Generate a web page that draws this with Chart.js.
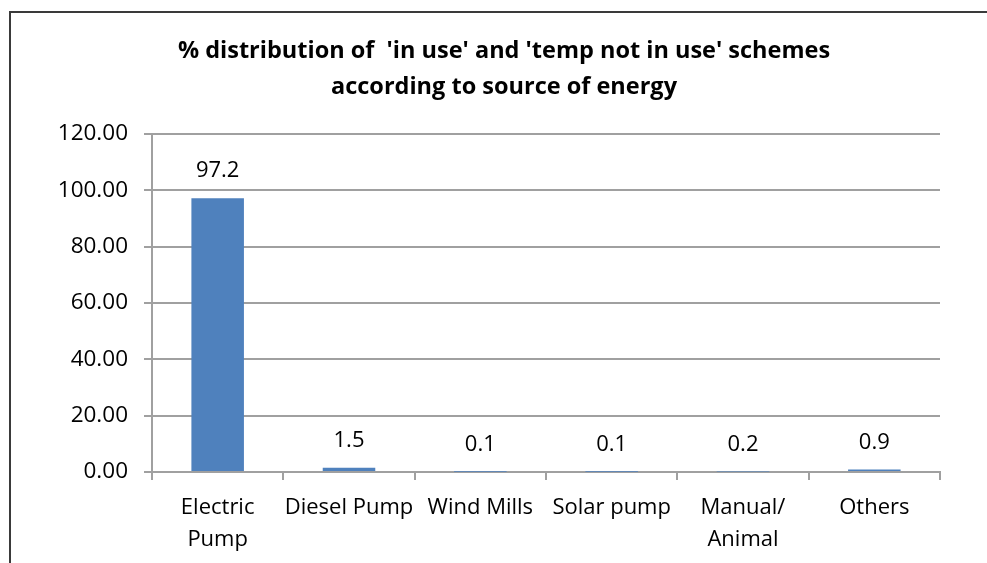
<!DOCTYPE html>
<html>
<head>
<meta charset="utf-8">
<script src="https://cdn.jsdelivr.net/npm/chart.js@4.4.1/dist/chart.umd.min.js"></script>
<style>
  html, body { margin: 0; padding: 0; background: #fff; overflow: hidden; }
  #wrap { position: relative; width: 987px; height: 563px; }
  #frame {
    position: absolute; left: 9px; top: 11px; width: 1100px; height: 700px;
    border-left: 2px solid #3a3a3a; border-top: 2px solid #3a3a3a;
  }
  canvas { position: absolute; left: 0; top: 0; }
</style>
</head>
<body>
<div id="wrap">
  <div id="frame"></div>
  <canvas id="energyChart" width="987" height="563"></canvas>
</div>
<script>
// --- data ---
const categories = [['Electric', 'Pump'], 'Diesel Pump', 'Wind Mills', 'Solar pump', ['Manual/', 'Animal'], 'Others'];
const shareValues = [97.2, 1.5, 0.1, 0.1, 0.2, 0.9];
const yTicks = [0, 20, 40, 60, 80, 100, 120];
const titleLines = ["% distribution of  'in use' and 'temp not in use' schemes", 'according to source of energy'];

const FONT = "'Open Sans', sans-serif";
const GRID = '#a0a0a0';
const BAR = '#4f81bd';

// chart title, centred on the frame rather than the plot
const frameTitle = {
    id: 'frameTitle',
    afterDraw(chart) {
        const ctx = chart.ctx;
        ctx.save();
        ctx.font = 'bold 23.5px ' + FONT;
        ctx.fillStyle = '#000';
        ctx.textAlign = 'center';
        ctx.textBaseline = 'middle';
        titleLines.forEach((line, i) => ctx.fillText(line, 504, 51 + i * 36));
        ctx.restore();
    }
};

// draws the value above every bar
const valueLabels = {
    id: 'valueLabels',
    afterDatasetsDraw(chart) {
        const ctx = chart.ctx;
        const meta = chart.getDatasetMeta(0);
        ctx.save();
        ctx.font = '22px ' + FONT;
        ctx.fillStyle = '#000';
        ctx.textAlign = 'center';
        ctx.textBaseline = 'middle';
        meta.data.forEach((bar, i) => {
            ctx.fillText(shareValues[i].toFixed(1), bar.x, bar.y - 27);
        });
        ctx.restore();
    }
};

new Chart(document.getElementById('energyChart'), {
    type: 'bar',
    data: {
        labels: categories,
        datasets: [{
            data: shareValues,
            backgroundColor: BAR,
            borderWidth: 0,
            categoryPercentage: 1,
            barPercentage: 0.4
        }]
    },
    options: {
        responsive: false,
        animation: false,
        layout: { padding: { left: 0, right: 47, top: 134, bottom: 0 } },
        plugins: {
            legend: { display: false },
            tooltip: { enabled: false },
            title: { display: false }
        },
        scales: {
            x: {
                grid: { display: true, drawOnChartArea: false, drawTicks: true, tickLength: 8, color: GRID, lineWidth: 2 },
                border: { color: GRID, width: 2 },
                ticks: { color: '#000', font: { family: FONT, size: 22, lineHeight: 1.45 }, padding: 12, maxRotation: 0, autoSkip: false },
                afterFit(scale) { scale.height = 91; }
            },
            y: {
                min: 0,
                max: 120,
                afterBuildTicks(scale) { scale.ticks = yTicks.map(v => ({ value: v })); },
                grid: { color: GRID, lineWidth: 2, tickLength: 8 },
                border: { color: GRID, width: 2 },
                ticks: {
                    color: '#000',
                    font: { family: FONT, size: 22.5 },
                    padding: 16,
                    callback: v => v.toFixed(2)
                },
                afterFit(scale) { scale.width = 152; }
            }
        }
    },
    plugins: [valueLabels, frameTitle]
});
</script>
</body>
</html>
